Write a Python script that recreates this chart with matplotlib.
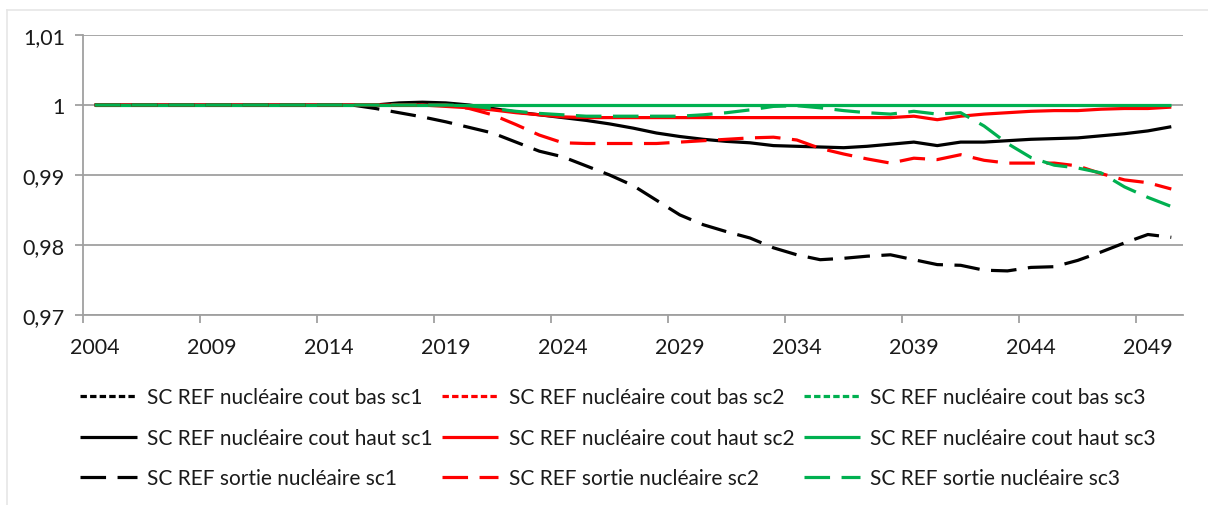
import matplotlib
matplotlib.use("Agg")
import matplotlib.pyplot as plt
from matplotlib.lines import Line2D

# -------------------------
# Data
# -------------------------
years = list(range(2004, 2051))

# "cout bas" series sit at 1 and are hidden under the other lines
bas_sc1 = [1.0] * len(years)
bas_sc2 = [1.0] * len(years)
bas_sc3 = [1.0] * len(years)

haut_sc1 = [1.0] * 13 + [
    1.0003, 1.0004, 1.0003, 1.0, 0.9995, 0.9990, 0.9986, 0.9982, 0.9978,
    0.9973, 0.9967, 0.9960, 0.9955, 0.9951, 0.9948, 0.9946, 0.9942, 0.9941,
    0.9940, 0.9939, 0.9941, 0.9944, 0.9947, 0.9942, 0.9947, 0.9947, 0.9949,
    0.9951, 0.9952, 0.9953, 0.9956, 0.9959, 0.9963, 0.9969,
]
haut_sc2 = [1.0] * 15 + [
    0.9998, 0.9996, 0.9993, 0.9989, 0.9986, 0.9983,
    0.9982, 0.9982, 0.9982, 0.9982, 0.9982, 0.9982, 0.9982, 0.9982,
    0.9982, 0.9982, 0.9982, 0.9982, 0.9982, 0.9982,
    0.9984, 0.9979, 0.9984, 0.9987, 0.9989, 0.9991, 0.9992, 0.9992,
    0.9994, 0.9995, 0.9995, 0.9997,
]
haut_sc3 = [1.0] * len(years)

sortie_sc1 = [1.0] * 12 + [
    0.9995, 0.9989, 0.9983, 0.9976, 0.9968, 0.9960, 0.9947, 0.9934, 0.9926,
    0.9913, 0.9900, 0.9885, 0.9864, 0.9843, 0.9829, 0.9819, 0.9810, 0.9796,
    0.9786, 0.9779, 0.9781, 0.9784, 0.9786, 0.9779, 0.9772, 0.9771, 0.9764,
    0.9763, 0.9768, 0.9769, 0.9778, 0.9790, 0.9803, 0.9815, 0.9811,
]
sortie_sc2 = [1.0] * 16 + [
    0.9995, 0.9986, 0.9972, 0.9957, 0.9946, 0.9945, 0.9945, 0.9945, 0.9945,
    0.9947, 0.9949, 0.9951, 0.9953, 0.9954, 0.9950, 0.9938, 0.9930, 0.9923,
    0.9917, 0.9924, 0.9922, 0.9929, 0.9921, 0.9917, 0.9917, 0.9917, 0.9913,
    0.9902, 0.9893, 0.9889, 0.9880,
]
sortie_sc3 = [1.0] * 16 + [
    0.9999, 0.9995, 0.9991, 0.9988, 0.9986, 0.9984, 0.9984, 0.9984, 0.9984,
    0.9984, 0.9986, 0.9989, 0.9993, 0.9998, 0.9999, 0.9996, 0.9992, 0.9989,
    0.9987, 0.9991, 0.9987, 0.9989, 0.9970, 0.9945, 0.9925, 0.9914, 0.9910,
    0.9903, 0.9883, 0.9868, 0.9855,
]

labels = [
    "SC REF nucléaire cout bas sc1", "SC REF nucléaire cout bas sc2", "SC REF nucléaire cout bas sc3",
    "SC REF nucléaire cout haut sc1", "SC REF nucléaire cout haut sc2", "SC REF nucléaire cout haut sc3",
    "SC REF sortie nucléaire sc1", "SC REF sortie nucléaire sc2", "SC REF sortie nucléaire sc3",
]
series = [bas_sc1, bas_sc2, bas_sc3, haut_sc1, haut_sc2, haut_sc3,
          sortie_sc1, sortie_sc2, sortie_sc3]

colors = ["black", "#ff0000", "#00b050"] * 3
styles = [(0, (2.0, 1.0))] * 3 + ["-"] * 3 + [(0, (8.0, 3.6))] * 3

# -------------------------
# Plot
# -------------------------
plt.rcParams["font.family"] = ["Lato", "DejaVu Sans"]

fig = plt.figure(figsize=(12.08, 5.06), dpi=100)
ax = fig.add_axes([83 / 1208, 1 - 316 / 506, 1100 / 1208, 280 / 506])

LW = 2.3
handles = []
for i, (vals, lab, col, ls) in enumerate(zip(series, labels, colors, styles)):
    # the "cout bas" lines are hidden below the others: draw them thinner so
    # no antialiased fringe leaks through
    lw = 1.4 if i < 3 else LW
    ax.plot(years, vals, color=col, linestyle=ls, linewidth=lw,
            solid_capstyle="butt", dash_capstyle="butt", zorder=2 + i * 0.01)
    handles.append(Line2D([], [], color=col, linestyle=ls, linewidth=LW,
                          dash_capstyle="butt", solid_capstyle="butt"))

grid_c = "#a0a0a0"
ax.set_xlim(2003.5, 2050.5)
ax.set_ylim(0.97, 1.01)
ax.set_yticks([0.97, 0.98, 0.99, 1.0, 1.01])
ax.set_yticklabels(["0,97", "0,98", "0,99", "1", "1,01"])
ax.yaxis.grid(True, color=grid_c, linewidth=1.3)
ax.set_axisbelow(True)

ax.set_xticks(years[::5])
ax.set_xticklabels([str(y) for y in years[::5]])
ax.set_xticks([y - 0.5 for y in years[::5]], minor=True)
ax.tick_params(axis="x", which="major", length=0, pad=16, labelsize=15.5, labelcolor="#1a1a1a")
ax.tick_params(axis="x", which="minor", length=6, width=1.3, color=grid_c, direction="out")
ax.tick_params(axis="y", length=6, width=1.3, color=grid_c, pad=7, labelsize=15.5, labelcolor="#1a1a1a")

for s in ["top", "right"]:
    ax.spines[s].set_visible(False)
for s in ["left", "bottom"]:
    ax.spines[s].set_color(grid_c)
    ax.spines[s].set_linewidth(1.3)

# legend: Excel fills row by row, matplotlib column by column
order = [0, 3, 6, 1, 4, 7, 2, 5, 8]
fig.legend([handles[i] for i in order], [labels[i] for i in order],
           ncol=3, loc="upper left", bbox_to_anchor=(70 / 1208, 1 - 378 / 506),
           frameon=False, fontsize=15, handlelength=2.7, handletextpad=0.5,
           columnspacing=0.45, labelspacing=0.98, borderpad=0.0, labelcolor="#1a1a1a")

# chart border (only top and left edges show in the crop)
fig.add_artist(Line2D([7 / 1208, 7 / 1208], [0, 1 - 11 / 506], transform=fig.transFigure,
                      color="#e6e6e6", linewidth=1.2))
fig.add_artist(Line2D([7 / 1208, 1], [1 - 11 / 506, 1 - 11 / 506], transform=fig.transFigure,
                      color="#e6e6e6", linewidth=1.2))

fig.savefig("out.png", dpi=100)
plt.close(fig)
